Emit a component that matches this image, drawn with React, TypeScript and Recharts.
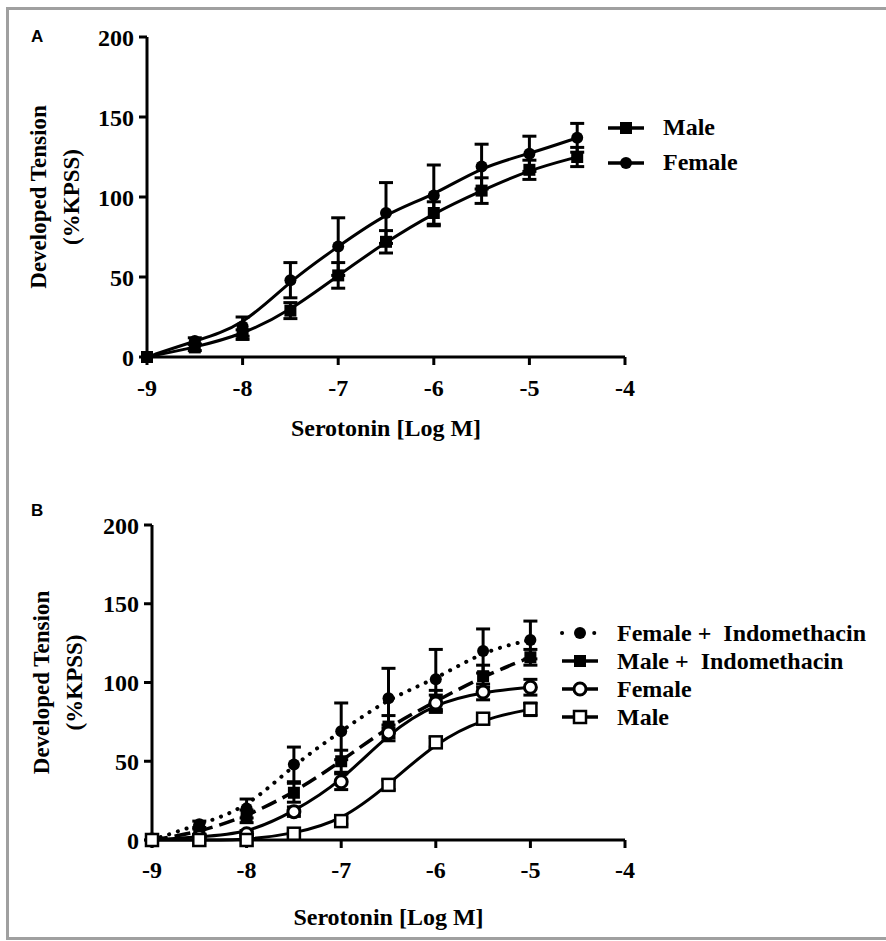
import React from 'react';
import { LineChart, Line, XAxis, YAxis, ErrorBar, Legend, Label } from 'recharts';

// Panel A: serotonin concentration-response, male vs female
const doseA = [-9, -8.5, -8, -7.5, -7, -6.5, -6, -5.5, -5, -4.5];
const maleA = [0, 6, 14, 29, 51, 72, 90, 104, 117, 125];
const maleErrA = [0, 2, 3, 5, 8, 7, 7, 8, 6, 6];
const femaleA = [0, 10, 19, 48, 69, 90, 101, 119, 127, 137];
const femaleErrA = [0, 2, 6, 11, 18, 19, 19, 14, 11, 9];

// Panel B: with / without indomethacin
const doseB = [-9, -8.5, -8, -7.5, -7, -6.5, -6, -5.5, -5];
const femaleIndoB = [0, 10, 20, 48, 69, 90, 102, 120, 127];
const femaleIndoErrB = [0, 2, 6, 11, 18, 19, 19, 14, 12];
const maleIndoB = [0, 5, 15, 30, 50, 72, 88, 104, 116];
const maleIndoErrB = [0, 2, 4, 6, 7, 7, 7, 7, 5];
const femaleB = [0, 2, 4, 18, 37, 68, 87, 94, 97];
const femaleErrB = [0, 1, 2, 3, 5, 5, 5, 5, 5];
const maleB = [0, 0, 0, 4, 12, 35, 62, 77, 83];
const maleErrB = [0, 0, 0, 1, 2, 3, 3, 3, 4];

const xTicks = [-9, -8, -7, -6, -5, -4];
const yTicks = [0, 50, 100, 150, 200];

const SERIF = 'Liberation Serif, DejaVu Serif';

const dataA = doseA.map((x, i) => ({
  x,
  male: maleA[i],
  maleErr: maleErrA[i],
  female: femaleA[i],
  femaleErr: femaleErrA[i],
}));

const dataB = doseB.map((x, i) => ({
  x,
  femaleIndo: femaleIndoB[i],
  femaleIndoErr: femaleIndoErrB[i],
  maleIndo: maleIndoB[i],
  maleIndoErr: maleIndoErrB[i],
  female: femaleB[i],
  femaleErr: femaleErrB[i],
  male: maleB[i],
  maleErr: maleErrB[i],
}));

type Marker = 'circle' | 'square' | 'openCircle' | 'openSquare';

const drawMarker = (kind: Marker, cx: number, cy: number, key?: string) => {
  if (kind === 'circle') return <circle key={key} cx={cx} cy={cy} r={6} fill="#000" />;
  if (kind === 'square') return <rect key={key} x={cx - 6} y={cy - 6} width={12} height={12} fill="#000" />;
  if (kind === 'openCircle')
    return <circle key={key} cx={cx} cy={cy} r={6} fill="#fff" stroke="#000" strokeWidth={3} />;
  return <rect key={key} x={cx - 6} y={cy - 6} width={12} height={12} fill="#fff" stroke="#000" strokeWidth={2.5} />;
};

const dotOf = (kind: Marker) => (props: any) => {
  const { cx, cy, index } = props;
  if (cx == null || cy == null) return <g key={`d-${index}`} />;
  return drawMarker(kind, cx, cy, `d-${kind}-${index}`);
};

const DOTTED = '0.1 9';
const DASHED = '16 7';

const legendA = [
  { label: 'Male', marker: 'square' as Marker, dash: undefined },
  { label: 'Female', marker: 'circle' as Marker, dash: undefined },
];

const legendB = [
  { label: 'Female +  Indomethacin', marker: 'circle' as Marker, dash: DOTTED },
  { label: 'Male +  Indomethacin', marker: 'square' as Marker, dash: DASHED },
  { label: 'Female', marker: 'openCircle' as Marker, dash: undefined },
  { label: 'Male', marker: 'openSquare' as Marker, dash: undefined },
];

const LegendBox = ({ items, rowHeight }: { items: typeof legendB; rowHeight: number }) => (
  <div>
    {items.map((it) => (
      <div key={it.label} style={{ display: 'flex', alignItems: 'center', height: rowHeight }}>
        <svg width={40} height={16} style={{ overflow: 'visible' }}>
          <line
            x1={2}
            y1={8}
            x2={38}
            y2={8}
            stroke="#000"
            strokeWidth={it.dash === DOTTED ? 4 : 3.5}
            strokeDasharray={it.dash === DOTTED ? '0.1 16' : undefined}
            strokeLinecap={it.dash === DOTTED ? 'round' : 'butt'}
          />
          {drawMarker(it.marker, 20, 8)}
        </svg>
        <span
          style={{
            marginLeft: 17,
            fontFamily: SERIF,
            fontWeight: 'bold',
            fontSize: 24,
            whiteSpace: 'pre',
            color: '#000',
            lineHeight: `${rowHeight}px`,
          }}
        >
          {it.label}
        </span>
      </div>
    ))}
  </div>
);

const yTitle = (x1: number, x2: number) => (props: any) => {
  const vb = props.viewBox || { x: 0, y: 0, width: 0, height: 0 };
  const cy = vb.y + vb.height / 2;
  const style = { fontFamily: SERIF, fontWeight: 'bold' as const, fontSize: 23, fill: '#000' };
  return (
    <g>
      <text transform={`translate(${vb.x + x1}, ${cy}) rotate(-90)`} textAnchor="middle" dominantBaseline="central" {...style}>
        Developed Tension
      </text>
      <text transform={`translate(${vb.x + x2}, ${cy}) rotate(-90)`} textAnchor="middle" dominantBaseline="central" {...style}>
        (%KPSS)
      </text>
    </g>
  );
};

const axisStroke = { stroke: '#000', strokeWidth: 3 };
const tickFont = { fill: '#000', fontSize: 24, fontFamily: SERIF, fontWeight: 'bold' };

const panelLetter: React.CSSProperties = {
  position: 'absolute',
  left: 31,
  fontFamily: 'Liberation Sans, Arial, sans-serif',
  fontWeight: 'bold',
  fontSize: 17,
  color: '#000',
};

export default function App() {
  return (
    <div style={{ position: 'relative', width: 886, height: 941, overflow: 'hidden', background: '#fff' }}>
      <style>{'body{margin:0}'}</style>
      <div
        style={{
          position: 'absolute',
          left: 6,
          top: 7,
          width: 900,
          height: 927,
          borderLeft: '3px solid #a0a0a0',
          borderTop: '3px solid #a0a0a0',
          borderBottom: '3px solid #a0a0a0',
        }}
      />
      <div style={{ ...panelLetter, top: 27 }}>A</div>
      <div style={{ ...panelLetter, top: 501 }}>B</div>

      <div style={{ position: 'absolute', left: 0, top: 0 }}>
        <LineChart width={886} height={480} data={dataA} margin={{ top: 37, right: 261, left: 0, bottom: 44 }}>
          <XAxis
            type="number"
            dataKey="x"
            domain={[-9, -4]}
            ticks={xTicks}
            tickSize={8}
            tickMargin={14}
            axisLine={axisStroke}
            tickLine={axisStroke}
            tick={tickFont}
            height={79}
          >
            <Label value="Serotonin [Log M]" position="insideBottom" offset={0} fill="#000" fontSize={24} fontFamily={SERIF} fontWeight="bold" />
          </XAxis>
          <YAxis
            type="number"
            domain={[0, 200]}
            ticks={yTicks}
            tickSize={8}
            tickMargin={5}
            axisLine={axisStroke}
            tickLine={axisStroke}
            tick={tickFont}
            width={147}
          >
            <Label content={yTitle(38, 71)} />
          </YAxis>
          <Line dataKey="male" name="Male" type="basis" stroke="#000" strokeWidth={3} dot={dotOf('square')} isAnimationActive={false}>
            <ErrorBar dataKey="maleErr" width={7} stroke="#000" strokeWidth={3} direction="y" />
          </Line>
          <Line dataKey="female" name="Female" type="basis" stroke="#000" strokeWidth={3} dot={dotOf('circle')} isAnimationActive={false}>
            <ErrorBar dataKey="femaleErr" width={7} stroke="#000" strokeWidth={3} direction="y" />
          </Line>
          <Legend
            layout="vertical"
            align="center"
            verticalAlign="middle"
            wrapperStyle={{ left: 606, top: 110, width: 'auto' }}
            content={() => <LegendBox items={legendA} rowHeight={35} />}
          />
        </LineChart>
      </div>

      <div style={{ position: 'absolute', left: 0, top: 480 }}>
        <LineChart width={886} height={461} data={dataB} margin={{ top: 45, right: 261, left: 0, bottom: 16 }}>
          <XAxis
            type="number"
            dataKey="x"
            domain={[-9, -4]}
            ticks={xTicks}
            tickSize={8}
            tickMargin={13}
            axisLine={axisStroke}
            tickLine={axisStroke}
            tick={tickFont}
            height={85}
          >
            <Label value="Serotonin [Log M]" position="insideBottom" offset={0} fill="#000" fontSize={24} fontFamily={SERIF} fontWeight="bold" />
          </XAxis>
          <YAxis
            type="number"
            domain={[0, 200]}
            ticks={yTicks}
            tickSize={8}
            tickMargin={5}
            axisLine={axisStroke}
            tickLine={axisStroke}
            tick={tickFont}
            width={152}
          >
            <Label content={yTitle(41, 74)} />
          </YAxis>
          <Line dataKey="femaleIndo" name="Female + Indomethacin" type="basis" stroke="#000" strokeWidth={4} strokeDasharray={DOTTED} strokeLinecap="round" dot={dotOf('circle')} isAnimationActive={false}>
            <ErrorBar dataKey="femaleIndoErr" width={7} stroke="#000" strokeWidth={3} direction="y" />
          </Line>
          <Line dataKey="maleIndo" name="Male + Indomethacin" type="basis" stroke="#000" strokeWidth={3.5} strokeDasharray={DASHED} dot={dotOf('square')} isAnimationActive={false}>
            <ErrorBar dataKey="maleIndoErr" width={7} stroke="#000" strokeWidth={3} direction="y" />
          </Line>
          <Line dataKey="female" name="Female" type="basis" stroke="#000" strokeWidth={3} dot={dotOf('openCircle')} isAnimationActive={false}>
            <ErrorBar dataKey="femaleErr" width={7} stroke="#000" strokeWidth={3} direction="y" />
          </Line>
          <Line dataKey="male" name="Male" type="basis" stroke="#000" strokeWidth={3} dot={dotOf('openSquare')} isAnimationActive={false}>
            <ErrorBar dataKey="maleErr" width={7} stroke="#000" strokeWidth={3} direction="y" />
          </Line>
          <Legend
            layout="vertical"
            align="center"
            verticalAlign="middle"
            wrapperStyle={{ left: 560, top: 139, width: 'auto' }}
            content={() => <LegendBox items={legendB} rowHeight={28} />}
          />
        </LineChart>
      </div>
    </div>
  );
}
